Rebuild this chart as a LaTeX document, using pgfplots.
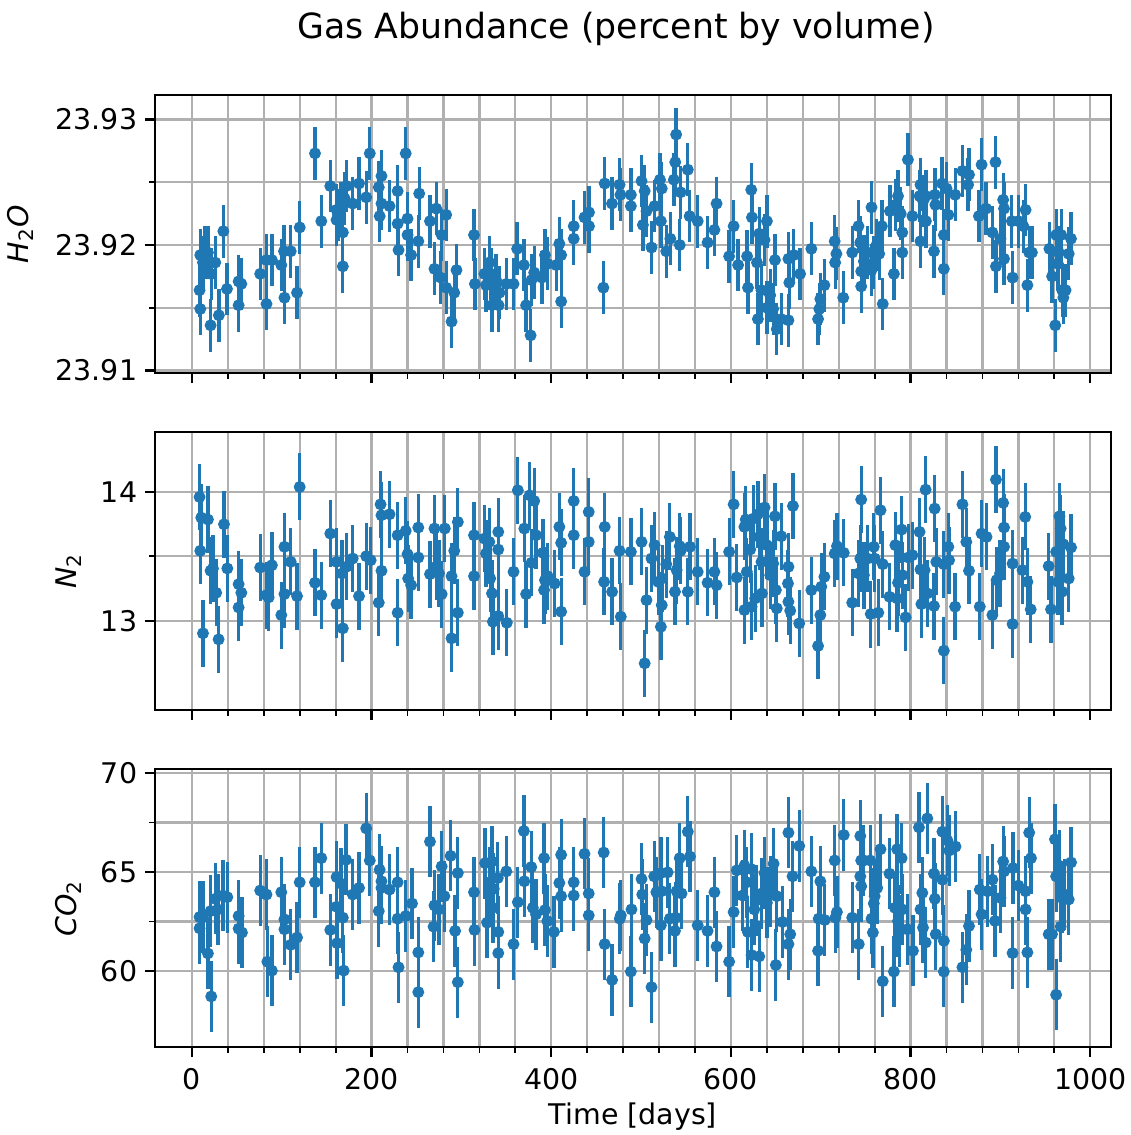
\documentclass[border=0pt]{standalone}
\usepackage{fontspec}
\setmainfont{DejaVu Sans}
\usepackage{pgfplots}
\pgfplotsset{compat=1.18}
\usepgfplotslibrary{groupplots}
\usetikzlibrary{calc}
\definecolor{tabblue}{HTML}{1F77B4}

\pgfplotsset{
  gas/.style={
    only marks, mark=*, mark size=1.7pt,
    mark options={draw=tabblue, fill=tabblue},
    error bars/.cd, y dir=both, y fixed=#1,
    error mark=none,
    error bar style={line width=1.05pt, tabblue},
  },
}

\begin{document}
\begin{tikzpicture}
\begin{groupplot}[
  group style={group size=1 by 3, vertical sep=18.9pt, x descriptions at=edge bottom},
  scale only axis, width=305.7pt, height=88.9pt,
  xmin=-41, xmax=1023,
  xtick={0,200,...,1000}, minor x tick num=4,
  grid=both,
  major grid style={color=black!31, line width=0.73pt},
  minor grid style={color=black!31, line width=0.73pt},
  tick align=outside, tick pos=left,
  major tick length=3.2pt, minor tick length=1.8pt,
  tick style={black, line width=0.73pt},
  minor tick style={black, line width=0.55pt},
  axis line style={line width=0.73pt},
  /pgf/number format/assume math mode=true,
  /pgf/number format/1000 sep={},
  ticklabel style={font=\fontsize{9.1}{11}\selectfont},
  yticklabel style={xshift=1pt},
  label style={font=\fontsize{9.1}{11}\selectfont},
  ylabel style={at={(axis description cs:-0.0654,0.5)}, anchor=south},
  scaled y ticks=false,
]
% ---- H2O ----
\nextgroupplot[
  ymin=23.9098, ymax=23.93195,
  ytick={23.91,23.92,23.93}, minor y tick num=1,
  yticklabel style={/pgf/number format/fixed, /pgf/number format/precision=2, /pgf/number format/fixed zerofill},
  ylabel={\textit{H}\textsubscript{2}\textit{O}},
  ylabel style={at={(axis description cs:-0.1158,0.5)}, anchor=south},
]
\addplot[gas=0.0021] coordinates {
(8.5,23.9164) (9.3,23.9149) (9.3,23.9192) (12.3,23.9186) (14,23.9194) (17.8,23.9194)
(20.8,23.9136) (21.5,23.9177) (26,23.9186) (30,23.9144) (35,23.9211) (39,23.9165)
(52,23.9171) (55,23.9169) (52,23.9152) (76,23.9177) (83,23.9153) (83,23.9188)
(89,23.9188) (99.5,23.9184) (102.5,23.9195) (103,23.9158) (110,23.9195) (117,23.9162)
(120,23.9214) (137,23.9273) (144,23.9219) (154,23.9247) (161,23.9228) (161,23.9220)
(162.7,23.9224) (166,23.9229) (168,23.9210) (168,23.9183) (172,23.9247) (170,23.9237)
(179,23.9233) (186,23.9249) (194,23.9238) (198,23.9273) (208,23.9246) (211,23.9255)
(209,23.9223) (211,23.9233) (220,23.9231) (229,23.9243) (229,23.9217) (230,23.9196)
(238,23.9273) (240,23.9221) (240,23.9208) (244,23.9192) (252,23.9203) (253,23.9241)
(265,23.9219) (270,23.9181) (272,23.9229) (277,23.9174) (278,23.9208) (283,23.9224)
(283,23.9166) (289,23.9139) (292,23.9162) (294.5,23.9180) (314,23.9208) (315,23.9169)
(325.6,23.9177) (327.4,23.9168) (331,23.9186) (333,23.9177) (334,23.9152) (338.6,23.9172)
(341.4,23.9152) (342.4,23.9162) (350,23.9169) (358,23.9169) (362,23.9197) (369.5,23.9184)
(372,23.9152) (377,23.9128) (378,23.9172) (381,23.9178) (389.6,23.9174) (393,23.9192)
(396,23.9185) (405.6,23.9184) (409,23.9201) (411,23.9192) (411,23.9155) (425,23.9215)
(425,23.9205) (437,23.9222) (442,23.9226) (442,23.9215) (458,23.9166) (459.5,23.9249)
(467.6,23.9233) (476,23.9248) (477,23.9240) (488.6,23.9240) (488.6,23.9231) (500.5,23.9251)
(502,23.9216) (504,23.9243) (506,23.9227) (511.6,23.9198) (515,23.9231) (521,23.9252)
(523,23.9245) (522,23.9219) (528,23.9195) (532.5,23.9205) (536.5,23.9252) (538,23.9266)
(539,23.9288) (543,23.9200) (544,23.9242) (552,23.9260) (554,23.9223) (563,23.9219)
(574,23.9202) (581.6,23.9212) (584,23.9233) (598,23.9191) (603,23.9215) (608,23.9184)
(618,23.9191) (619,23.9166) (622.6,23.9244) (623.4,23.9222) (629,23.9186) (630,23.9141)
(631.5,23.9209) (634,23.9164) (637.4,23.9204) (640,23.9219) (640,23.9150) (643.7,23.9160)
(647,23.9149) (649,23.9188) (651,23.9133) (656,23.9141) (664,23.9189) (664,23.9140)
(665,23.9170) (670,23.9192) (677,23.9177)
(689.5,23.9197) (697,23.9141) (698.4,23.9149) (699.5,23.9157) (704,23.9168) (715.5,23.9203)
(716,23.9186) (717.4,23.9193) (725,23.9158) (735,23.9194) (742,23.9215) (744,23.9202)
(745,23.9179) (745,23.9167) (748,23.9187) (752,23.9194) (756.5,23.9230) (756.5,23.9180)
(759,23.9186) (762,23.9200) (765,23.9193) (768,23.9215) (769,23.9153) (777,23.9227)
(781.4,23.9177) (783,23.9232) (786,23.9239) (789,23.9225) (790.7,23.9210) (790.7,23.9194)
(797,23.9268) (802,23.9223) (810,23.9239) (811,23.9248) (811,23.9203) (814,23.9235)
(817,23.9239) (817,23.9219) (826,23.9195) (827,23.9240) (827.6,23.9232) (835,23.9249)
(837,23.9208) (837,23.9181) (840,23.9245) (842,23.9224) (849.6,23.9240) (857.7,23.9259)
(865,23.9256) (864,23.9248) (876,23.9223) (879,23.9264) (884,23.9229) (891,23.9210)
(894.5,23.9266) (895,23.9183) (900,23.9205) (903,23.9236) (904,23.9229) (904,23.9189)
(912.7,23.9219) (913.5,23.9174) (920,23.9219) (925.5,23.9215) (928,23.9228) (930,23.9168)
(932,23.9194) (935,23.9194) (954.5,23.9197) (957.5,23.9175) (961,23.9136) (962,23.9208)
(964,23.9185) (965,23.9194) (967.6,23.9208) (968.7,23.9164) (970,23.9158) (972.5,23.9164)
(976,23.9193) (978.5,23.9205)
};
% ---- N2 ----
\nextgroupplot[
  ymin=12.306, ymax=14.465,
  ytick={13,14}, minor y tick num=1,
  ylabel={\textit{N}\textsubscript{2}},
]
\addplot[gas=0.26] coordinates {
(8.5,13.961) (10.4,13.801) (9.3,13.543) (12.3,12.902) (17.8,13.786) (20.8,13.388)
(23.4,13.406) (27,13.217) (29.7,12.855) (35.7,13.749) (39.4,13.406) (52,13.284)
(52,13.103) (55,13.217) (76,13.413) (83,13.199) (85.4,13.181) (89,13.431)
(99.5,13.044) (103,13.574) (103,13.207) (110,13.457) (117,13.191) (120,14.039)
(137,13.295) (144,13.199) (154,13.677) (161,13.457) (161,13.129) (167,13.367)
(168,12.941) (172,13.419) (179,13.483) (186,13.191) (194,13.501) (199,13.470)
(208,13.140) (211,13.819) (210,13.904) (211,13.388) (220,13.827) (229,13.664)
(229,13.062) (238,13.698) (240,13.517) (240.7,13.328) (244,13.276) (252,13.724)
(252,13.491) (265,13.362) (270,13.716) (272,13.419) (275,13.367) (278,13.207)
(281.5,13.716) (289,13.346) (289,12.863) (292,13.543) (296,13.767) (296,13.062)
(314,13.664) (314,13.346)
(325.6,13.638) (327.4,13.522) (331,13.612) (332,13.328) (334,13.212) (335,12.992)
(341,13.690) (341,13.553) (341,13.036) (350.5,12.984) (358,13.380) (362.8,14.013)
(370,13.716) (372,13.207) (376,13.974) (378,13.450) (381,13.930) (383,13.664)
(390.7,13.527) (392,13.238) (393,13.315) (396,13.346) (403.7,13.289) (409,13.729)
(411,13.070) (411,13.605) (425,13.930) (425,13.664) (437,13.380) (441.7,13.845)
(441.7,13.612) (458.8,13.302) (459.5,13.729) (467.7,13.225) (476,13.543) (477.4,13.031)
(488.6,13.535) (500.5,13.612) (504,12.669) (506,13.160) (511.6,13.483) (515,13.587)
(519,13.302) (522,12.953) (523,13.121) (523.5,13.328) (528,13.439) (532,13.651)
(537.7,13.225) (539.5,13.393) (543,13.579) (544,13.543) (552,13.225) (554.4,13.574)
(563,13.380) (574,13.295) (581.6,13.380) (584,13.276) (598,13.535) (603,13.904)
(606.5,13.336) (615,13.083) (615,13.729) (616.5,13.786) (617.7,13.380) (621.4,13.553)
(623,13.109) (625,13.793) (627,13.173) (630,13.827) (631.5,13.651) (634,13.457)
(634.5,13.212) (637.4,13.879) (640,13.587) (643.7,13.354) (647,13.444) (649,13.811)
(650,13.238) (651,13.096) (656,13.656) (664,13.419) (663.5,13.289) (664,13.147)
(666,13.078) (669,13.891) (676,12.979)
(689.5,13.238) (697,12.804) (699.5,13.044) (700.6,13.264) (704,13.341) (715.5,13.522)
(718,13.579) (725.6,13.527) (735,13.140) (742,13.367) (745,13.941) (744,13.483)
(748,13.354) (752,13.483) (755.6,13.052) (759,13.574) (760,13.483) (764,13.062)
(766.5,13.858) (769,13.439) (776.5,13.186) (783,13.587) (785,13.173) (786,13.295)
(790,13.708) (790.7,13.354) (794.4,13.026) (797.4,13.491) (802,13.509) (810,13.690)
(811,13.398) (812,13.129) (815.6,13.393) (816.7,14.018) (818.6,13.212) (826,13.114)
(826.8,13.871) (828.6,13.457) (837,12.767) (837,13.439) (842,13.574) (842.8,13.470)
(849.5,13.109) (857.7,13.904) (862,13.612) (865,13.388) (877,13.109) (879,13.677)
(884.5,13.651) (891,13.044) (895,14.096) (895.7,13.315) (899.5,13.367) (903,13.915)
(904,13.724) (904,13.574) (913.5,13.444) (913.5,12.974) (924.6,13.393) (927.6,13.806)
(930,13.302) (933.7,13.088) (953.7,13.424) (956.3,13.088) (962,13.535) (964,13.302)
(965.7,13.811) (967,13.716) (968.6,13.225) (970,13.594) (976,13.328) (978.6,13.569)
};
% ---- CO2 ----
\nextgroupplot[
  ymin=56.15, ymax=70.2,
  ytick={60,65,70}, minor y tick num=1,
  ylabel={\textit{CO}\textsubscript{2}},
  xlabel={Time [days]},
  xlabel style={at={(axis description cs:0.5,0)}, anchor=north, yshift=-14.3pt},
]
\addplot[gas=1.8] coordinates {
(8.5,62.726) (8.5,62.157) (12.3,62.726) (17.8,60.886) (21.5,58.713) (20.8,63.027)
(26,63.645) (29,63.110) (34.5,63.813) (39.4,63.729) (52,62.776) (52,62.140)
(55.7,61.940) (76,64.064) (83,63.863) (84,60.468) (89,60.017) (99.5,63.980)
(103,62.609) (103,62.107) (110,61.321) (117,61.689) (120,64.482) (137,64.482)
(144,65.702) (154,62.074) (161,64.749) (161,63.244) (161.6,61.405) (166,64.415)
(168,62.692) (169,60.017) (171.6,65.619) (179,63.863) (186,64.197) (194,67.207)
(198,65.585) (208,63.027) (209,65.117) (211,64.532) (211,64.197) (220,64.114)
(229,64.482) (229,62.642) (230,60.184) (238,62.776) (245,63.411) (252,60.937)
(252,58.930) (265,66.538) (270,63.311) (269,62.241) (275,63.110) (278,65.284)
(281,63.779) (288,65.819) (293,62.024) (296,64.950) (296,59.431) (314,63.980)
(314.6,62.074)
(326.3,65.451) (328.6,62.442) (331,64.482) (334,65.535) (336,64.147) (335,63.194)
(340.5,64.699) (341,61.973) (341,60.903) (350,65.033) (358,61.355) (362.8,63.478)
(369.5,67.074) (370,64.532) (377.7,65.251) (379.5,63.194) (383,62.860) (392,65.702)
(393,63.077) (395.6,62.525) (403,61.973) (409,64.448) (411,65.870) (411,63.779)
(425,64.482) (425,63.813) (437,65.920) (441.7,63.913) (441.7,62.810) (458.4,65.987)
(459.5,61.355) (467.7,59.549) (476.3,62.642) (477.4,62.810) (488.6,59.967) (489.3,63.110)
(500.5,64.649) (501.3,63.863) (504,61.639) (506,62.575) (511.6,59.181) (514.6,64.783)
(517,63.980) (522,64.950) (522,62.308) (522.8,64.030) (529.5,64.983) (532,62.642)
(537.7,62.024) (538.4,62.692) (539.5,64.030) (543,65.702) (545,63.913) (552,67.040)
(554.4,65.786) (563,62.308) (574,62.024) (581.6,63.980) (584,61.238) (598,60.468)
(603,62.977) (606.5,65.084) (612.8,63.813) (615,65.318) (617.7,64.482) (618.8,61.973)
(622.5,65.151) (623,60.803) (626,63.110) (628.8,63.579) (631.5,60.736) (634,63.913)
(637.4,64.950) (640,63.445) (643.7,64.030) (647.5,65.418) (650,60.301) (651,63.779)
(657.5,62.475) (664,66.990) (664,61.355) (666,61.856) (668.6,64.783) (676,66.321)
(689.5,65.033) (697,61.020) (697.7,62.642) (699.5,64.532) (704.4,62.575) (715.5,65.585)
(716.3,62.692) (718,62.977) (725.6,66.873) (735,62.692) (742.3,61.355) (744,66.823)
(744,64.783) (745,65.585) (745,64.281) (747.9,65.585) (755,65.585) (756.5,62.642)
(758,61.940) (759,63.411) (760,63.779) (762.8,64.197) (766.5,66.154) (769,59.482)
(776.5,64.916) (781.4,59.967) (782.5,63.194) (785,66.154) (786,62.525) (787.7,62.024)
(790,65.702) (790.7,63.110) (796.3,62.107) (802.6,61.020) (809.3,67.257) (811,63.110)
(813,63.947) (813.8,62.191) (816.7,61.438) (818.6,67.709) (826,64.916) (827,63.645)
(828,61.856) (835.4,67.040) (835.4,64.615) (837,61.522) (837,59.967) (841,66.589)
(843,66.087) (850,66.288) (857.7,60.184) (862,61.070) (865,62.274) (877,64.114)
(879,62.860) (885.6,64.030) (891,64.615) (894,62.525) (900,63.696) (903,65.535)
(904,65.033) (913.5,60.903) (914,65.200) (920,64.314) (928,64.030) (928,63.110)
(930,60.937) (932,66.990) (934,65.702) (953.7,61.856) (957.4,61.856) (960.7,66.655)
(962,58.796) (962,64.783) (965.7,65.318) (967,62.241) (968.6,63.696) (971.3,63.863)
(976,63.612) (978.6,65.485)
};
\end{groupplot}
\node[anchor=base, font=\fontsize{11.1}{13.3}\selectfont] at ($(group c1r1.north west)+(147.4pt,18pt)$) {Gas Abundance (percent by volume)};
\pgfresetboundingbox
\path ($(group c1r1.north west)+(-49.6pt,30.4pt)$) rectangle ($(group c1r1.north west)+(311.8pt,-332.6pt)$);
\end{tikzpicture}
\end{document}
